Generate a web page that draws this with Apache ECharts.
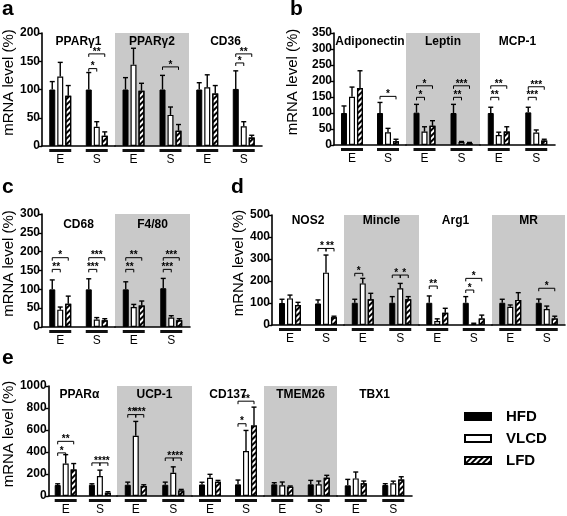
<!DOCTYPE html>
<html><head><meta charset="utf-8">
<script src="https://cdn.jsdelivr.net/npm/echarts@6/dist/echarts.min.js"></script>
<style>html,body{margin:0;padding:0;background:#fff}#c{width:567px;height:516px}</style>
</head><body><div id="c"></div>
<script>
// ---------- DATA (values per gene: [E, S]) ----------
const seriesNames = ['HFD', 'VLCD', 'LFD'];
const groupLabels = ['E', 'S'];

const aGenes = ['PPARγ1', 'PPARγ2', 'CD36'];
const aHFD = [[100, 100], [100, 100], [100, 101]];
const aHFDErr = [[114, 130], [121, 125], [112, 133]];
const aVLCD = [[123, 34], [144, 55], [104, 35]];
const aVLCDErr = [[148, 43], [173, 69], [126, 43]];
const aLFD = [[89, 18], [98, 27], [93, 15]];
const aLFDErr = [[107, 25], [111, 38], [107, 19]];
// [gene, group, fromBar, toBar, height, label]
const aSig = [[0,1,0,1,137,'*'],[0,1,0,2,163,'**'],[1,1,0,2,140,'*'],[2,1,0,1,147,'*'],[2,1,0,2,163,'**']];

const bGenes = ['Adiponectin', 'Leptin', 'MCP-1'];
const bHFD = [[100, 100], [101, 100], [100, 102]];
const bHFDErr = [[122, 133], [127, 127], [118, 118]];
const bVLCD = [[151, 40], [42, 9], [31, 39]];
const bVLCDErr = [[181, 52], [57, 11], [40, 47]];
const bLFD = [[178, 12], [60, 6], [42, 14]];
const bLFDErr = [[232, 18], [76, 8], [57, 18]];
const bSig = [[0,1,0,2,152,'*'],[1,0,0,1,149,'*'],[1,0,0,2,185,'*'],[1,1,0,1,149,'**'],[1,1,0,2,185,'***'],
              [2,0,0,1,149,'**'],[2,0,0,2,185,'**'],[2,1,0,1,149,'***'],[2,1,0,2,182,'***']];

const cGenes = ['CD68', 'F4/80'];
const cHFD = [[100, 100], [100, 103]];
const cHFDErr = [[125, 128], [120, 129]];
const cVLCD = [[46, 20], [53, 25]];
const cVLCDErr = [[53, 25], [60, 30]];
const cLFD = [[62, 18], [57, 18]];
const cLFDErr = [[82, 22], [69, 22]];
const cSig = [[0,0,0,1,153,'**'],[0,0,0,2,184,'*'],[0,1,0,1,153,'***'],[0,1,0,2,184,'***'],
              [1,0,0,1,153,'**'],[1,0,0,2,184,'**'],[1,1,0,1,153,'***'],[1,1,0,2,184,'***']];

const dGenes = ['NOS2', 'Mincle', 'Arg1', 'MR'];
const dHFD = [[100, 98], [101, 101], [101, 101], [101, 101]];
const dHFDErr = [[117, 114], [117, 129], [132, 129], [117, 118]];
const dVLCD = [[121, 238], [189, 167], [18, 5], [83, 73]];
const dVLCDErr = [[136, 318], [212, 189], [28, 8], [91, 86]];
const dLFD = [[91, 35], [117, 117], [56, 30], [114, 30]];
const dLFDErr = [[103, 40], [144, 129], [76, 45], [147, 40]];
const dSig = [[0,1,0,1,348,'*'],[0,1,1,2,348,'**'],[1,0,0,1,235,'*'],[1,1,0,1,227,'*'],[1,1,1,2,227,'*'],
              [2,0,0,1,177,'**'],[2,1,0,1,159,'*'],[2,1,0,2,212,'*'],[3,1,0,2,167,'*']];

const eGenes = ['PPARα', 'UCP-1', 'CD137', 'TMEM26', 'TBX1'];
const eHFD = [[100, 102], [102, 102], [105, 106], [106, 106], [97, 100]];
const eHFDErr = [[111, 111], [126, 126], [125, 145], [121, 142], [151, 112]];
const eVLCD = [[295, 181], [548, 211], [166, 408], [97, 106], [160, 115]];
const eVLCDErr = [[376, 235], [678, 265], [197, 596], [127, 136], [218, 135]];
const eLFD = [[241, 30], [90, 51], [130, 642], [85, 166], [115, 150]];
const eLFDErr = [[295, 39], [102, 60], [142, 808], [91, 188], [136, 175]];
const eSig = [[0,0,0,1,392,'*'],[0,0,0,2,497,'**'],[0,1,0,1,301,'*'],[0,1,1,2,301,'***'],
              [1,0,0,1,740,'**'],[1,0,1,2,740,'***'],[1,1,0,1,346,'*'],[1,1,1,2,346,'***'],
              [2,1,0,1,657,'*'],[2,1,0,2,862,'**']];

// ---------- LAYOUT ----------
const FONT = "'Liberation Sans', Arial, Helvetica, sans-serif";
const panels = [
  {letter:'a', lx:2, ly:9, genes:aGenes, m:[aHFD,aVLCD,aLFD], e:[aHFDErr,aVLCDErr,aLFDErr], sig:aSig,
   edges:[42,115,189,262], top:33, zero:146, max:200, step:50, gray:[1], titleY:42, nameGap:26},
  {letter:'b', lx:290, ly:9, genes:bGenes, m:[bHFD,bVLCD,bLFD], e:[bHFDErr,bVLCDErr,bLFDErr], sig:bSig,
   edges:[334,406,480,555], top:33, zero:145, max:350, step:50, gray:[1], titleY:42, nameGap:34},
  {letter:'c', lx:2, ly:187, genes:cGenes, m:[cHFD,cVLCD,cLFD], e:[cHFDErr,cVLCDErr,cLFDErr], sig:cSig,
   edges:[42,115,190], top:214, zero:327, max:300, step:50, gray:[1], titleY:225, nameGap:26},
  {letter:'d', lx:231, ly:187, genes:dGenes, m:[dHFD,dVLCD,dLFD], e:[dHFDErr,dVLCDErr,dLFDErr], sig:dSig,
   edges:[272,344,419,492,565], top:215, zero:325, max:500, step:100, gray:[1,3], titleY:221, nameGap:24},
  {letter:'e', lx:2, ly:358, genes:eGenes, m:[eHFD,eVLCD,eLFD], e:[eHFDErr,eVLCDErr,eLFDErr], sig:eSig,
   edges:[42,117,192,264,337,412], top:386, zero:497, max:1000, step:200, gray:[1,3], titleY:395, nameGap:26}
];

const barStyles = [
  {color:'#000', borderColor:'#000', borderWidth:1},
  {color:'#fff', borderColor:'#000', borderWidth:1.2},
  {color:'#fff', borderColor:'#000', borderWidth:1.2,
   decal:{symbol:'rect', dashArrayX:[1,0], dashArrayY:[2,2], symbolSize:1, rotation:-Math.PI/4, color:'#000'}}
];
const BAR_STEP = 8;

const grid = [], xAxis = [], yAxis = [], series = [], graphic = [];

function errRender(params, api) {
  const c = api.value(0), s = api.value(1), v = api.value(2), t = api.value(3);
  const p0 = api.coord([c, v]), p1 = api.coord([c, t]);
  const x = p0[0] + (s - 1) * BAR_STEP;
  const st = {stroke:'#000', lineWidth:1.4};
  return {type:'group', children:[
    {type:'line', shape:{x1:x, y1:p0[1], x2:x, y2:p1[1]}, style:st},
    {type:'line', shape:{x1:x-2.5, y1:p1[1], x2:x+2.5, y2:p1[1]}, style:st}
  ]};
}
function makeSigRender(list) {
  return function (params, api) {
    const s = list[params.dataIndex];
    const p = api.coord([s[1], s[4]]);
    const x1 = p[0] + (s[2] - 1) * BAR_STEP, x2 = p[0] + (s[3] - 1) * BAR_STEP;
    return {type:'group', children:[
      {type:'polyline', shape:{points:[[x1,p[1]+3],[x1,p[1]],[x2,p[1]],[x2,p[1]+3]]},
       style:{stroke:'#000', lineWidth:1, fill:null}},
      {type:'text', x:(x1+x2)/2, y:p[1]+3,
       style:{text:s[5], align:'center', verticalAlign:'bottom', textAlign:'center', textVerticalAlign:'bottom',
              font:'bold 10px ' + FONT, fill:'#000'}}
    ]};
  };
}

panels.forEach(p => {
  graphic.push({type:'text', x:p.lx, y:p.ly,
    style:{text:p.letter, font:'bold 21px ' + FONT, fill:'#000', verticalAlign:'middle', textVerticalAlign:'middle'}});
  p.genes.forEach((g, gi) => {
    const idx = grid.length;
    const left = p.edges[gi], right = p.edges[gi + 1];
    grid.push({left:left, top:p.top, width:right - left, height:p.zero - p.top,
      show:p.gray.indexOf(gi) >= 0, backgroundColor:'#c9c9c9', borderWidth:0, borderColor:'transparent'});
    graphic.push({type:'text', x:(left + right) / 2, y:p.titleY,
      style:{text:g, font:'bold 12px ' + FONT, fill:'#000', align:'center', verticalAlign:'middle',
             textAlign:'center', textVerticalAlign:'middle'}});
    xAxis.push({type:'category', gridIndex:idx, data:groupLabels,
      axisLine:{show:true, lineStyle:{color:'#000', width:1.6}}, axisTick:{show:false},
      axisLabel:{margin:3, interval:0, formatter:v => '{u| }\n{t|' + v + '}',
        rich:{u:{width:22, height:3, lineHeight:3, fontSize:2, backgroundColor:'#111'},
              t:{fontSize:12, lineHeight:13, color:'#000', fontFamily:FONT, padding:[3,0,0,0]}}}});
    const first = gi === 0;
    yAxis.push({type:'value', gridIndex:idx, min:0, max:p.max, interval:p.step, show:first,
      splitLine:{show:false},
      axisLine:{show:true, lineStyle:{color:'#000', width:1.6}},
      axisTick:{show:true, length:3, lineStyle:{color:'#000', width:1.4}},
      axisLabel:{margin:2, color:'#000', fontFamily:FONT, fontWeight:'bold', fontSize:12, formatter:v => String(v)},
      name:first ? 'mRNA level (%)' : '', nameLocation:'middle', nameRotate:90, nameGap:p.nameGap,
      nameTextStyle:{fontFamily:FONT, fontSize:15, color:'#000', padding:[0,0,0,14]}});
    for (let s = 0; s < 3; s++) {
      series.push({type:'bar', name:seriesNames[s], xAxisIndex:idx, yAxisIndex:idx,
        data:p.m[s][gi], barWidth:6, barGap:'33%', itemStyle:barStyles[s], silent:true, animation:false});
    }
    const errData = [];
    for (let s = 0; s < 3; s++) for (let c = 0; c < 2; c++) errData.push([c, s, p.m[s][gi][c], p.e[s][gi][c]]);
    series.push({type:'custom', name:'err', xAxisIndex:idx, yAxisIndex:idx, renderItem:errRender,
      data:errData, encode:{x:0, y:2}, z:5, silent:true, animation:false, clip:false});
    const sl = p.sig.filter(s => s[0] === gi);
    if (sl.length) {
      series.push({type:'custom', name:'sig', xAxisIndex:idx, yAxisIndex:idx, renderItem:makeSigRender(sl),
        data:sl.map(s => [s[1], s[4]]), encode:{x:0, y:1}, z:6, silent:true, animation:false, clip:false});
    }
  });
});

const chart = echarts.init(document.getElementById('c'), null, {renderer:'canvas'});
chart.setOption({
  animation:false,
  backgroundColor:'#fff',
  grid:grid, xAxis:xAxis, yAxis:yAxis, series:series, graphic:graphic,
  legend:{data:seriesNames, orient:'vertical', left:459, top:404, icon:'rect', itemWidth:26, itemHeight:7,
    itemGap:7, selectedMode:false,
    textStyle:{fontFamily:FONT, fontWeight:'bold', fontSize:15, color:'#000', padding:[0,0,0,10]}}
});
</script></body></html>
